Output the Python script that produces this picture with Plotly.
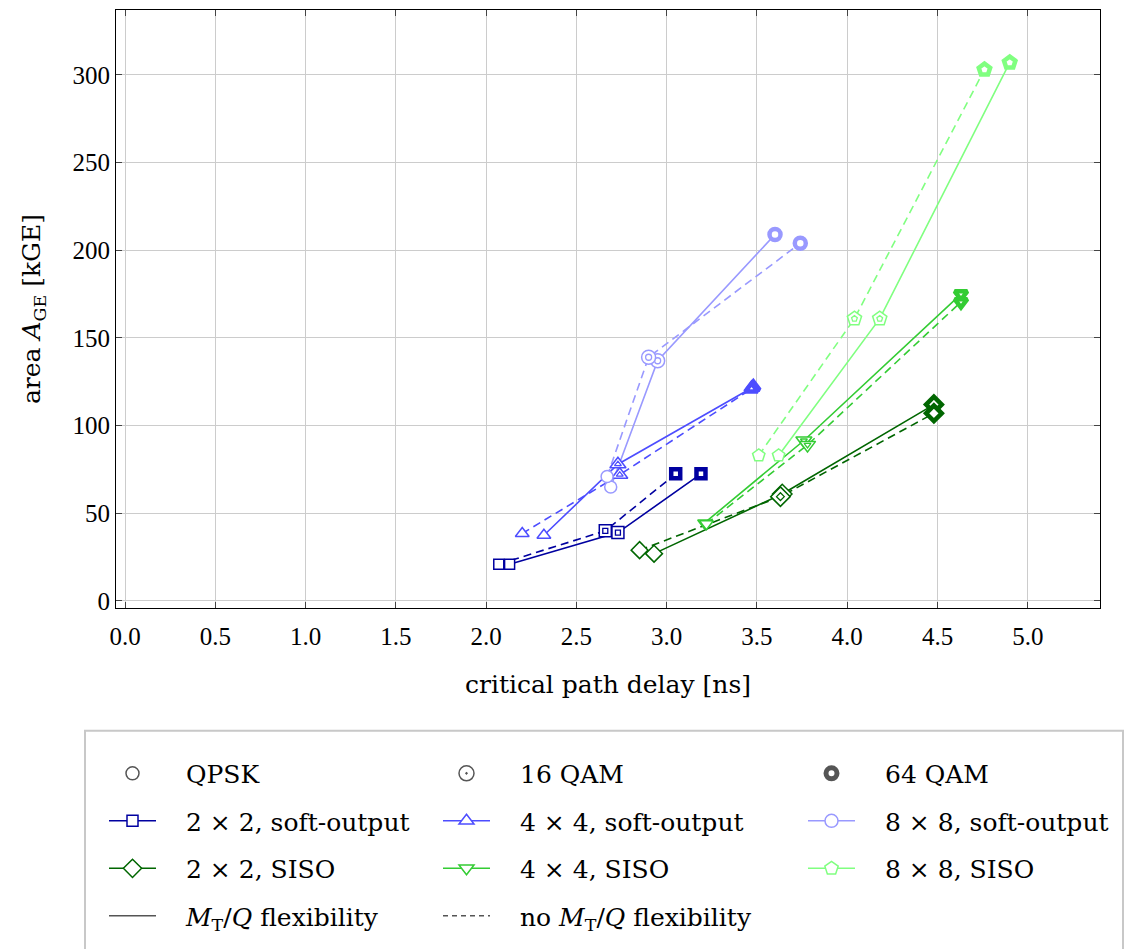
import plotly.graph_objects as go

TICKFONT = "Liberation Serif"
TEXTFONT = "DejaVu Serif"

# ---------------- data (critical path delay [ns], area [kGE]) ----------------
modulations = ["QPSK", "16 QAM", "64 QAM"]

x_2x2_so_flex = [2.13, 2.73, 3.19]
y_2x2_so_flex = [21, 39, 72.5]
x_2x2_so_nof = [2.07, 2.66, 3.05]
y_2x2_so_nof = [21, 40, 72.5]

x_4x4_so_flex = [2.32, 2.73, 3.48]
y_4x4_so_flex = [37.5, 78, 122]
x_4x4_so_nof = [2.20, 2.74, 3.47]
y_4x4_so_nof = [38.5, 72, 121]

x_8x8_so_flex = [2.69, 2.95, 3.60]
y_8x8_so_flex = [65, 137, 209]
x_8x8_so_nof = [2.67, 2.90, 3.74]
y_8x8_so_nof = [71, 139, 204]

x_2x2_siso_flex = [2.93, 3.64, 4.48]
y_2x2_siso_flex = [27, 61, 112]
x_2x2_siso_nof = [2.85, 3.63, 4.48]
y_2x2_siso_nof = [29, 59.5, 107]

x_4x4_siso_flex = [3.21, 3.76, 4.63]
y_4x4_siso_flex = [44.5, 91.5, 175]
x_4x4_siso_nof = [3.22, 3.78, 4.63]
y_4x4_siso_nof = [44, 89, 170.5]

x_8x8_siso_flex = [3.62, 4.18, 4.90]
y_8x8_siso_flex = [83, 161, 307]
x_8x8_siso_nof = [3.51, 4.04, 4.76]
y_8x8_siso_nof = [83, 161, 303]

PAD = "\u2002\u2002"  # gap between legend symbol and text
configs = [
    # name, color, symbol, base size, flex data, no-flex data, legend
    ("2 × 2, soft-output", "#0000a0", "square", 10, (x_2x2_so_flex, y_2x2_so_flex), (x_2x2_so_nof, y_2x2_so_nof), "legend"),
    ("4 × 4, soft-output", "#4d4dff", "triangle-up", 12, (x_4x4_so_flex, y_4x4_so_flex), (x_4x4_so_nof, y_4x4_so_nof), "legend2"),
    ("8 × 8, soft-output", "#9999ff", "circle", 12, (x_8x8_so_flex, y_8x8_so_flex), (x_8x8_so_nof, y_8x8_so_nof), "legend3"),
    ("2 × 2, SISO", "#006600", "diamond", 13, (x_2x2_siso_flex, y_2x2_siso_flex), (x_2x2_siso_nof, y_2x2_siso_nof), "legend"),
    ("4 × 4, SISO", "#33cc33", "triangle-down", 12, (x_4x4_siso_flex, y_4x4_siso_flex), (x_4x4_siso_nof, y_4x4_siso_nof), "legend2"),
    ("8 × 8, SISO", "#80ff80", "pentagon", 13, (x_8x8_siso_flex, y_8x8_siso_flex), (x_8x8_siso_nof, y_8x8_siso_nof), "legend3"),
]

fig = go.Figure()

# lines first
for name, col, sym, s, flex, nof, lg in configs:
    for (xs, ys), dash in ((flex, "solid"), (nof, "8px,5px")):
        fig.add_trace(go.Scatter(
            x=xs, y=ys, mode="lines",
            line=dict(color=col, width=1.6, dash=dash),
            showlegend=False, hoverinfo="skip"))

# markers on top
for name, col, sym, s, flex, nof, lg in configs:
    for (xs, ys) in (flex, nof):
        fig.add_trace(go.Scatter(
            x=xs, y=ys, mode="markers",
            marker=dict(symbol=sym, size=[s, s + 2, s - 1], color="white", opacity=1,
                        line=dict(color=col, width=[1.5, 1.5, 4.5])),
            showlegend=False, hoverinfo="skip"))
        # inner ring for 16 QAM
        fig.add_trace(go.Scatter(
            x=[xs[1]], y=[ys[1]], mode="markers",
            marker=dict(symbol=sym, size=max(4, round(s * 0.5)), color="white", opacity=1,
                        line=dict(color=col, width=1.3)),
            showlegend=False, hoverinfo="skip"))

GRAY = "#555555"
leg_font = dict(family=TEXTFONT, size=25, color="black")

# legend entries: modulation styles
fig.add_trace(go.Scatter(x=[None], y=[None], mode="markers", name=PAD + modulations[0],
                         marker=dict(symbol="circle", size=13, color="white", line=dict(color=GRAY, width=1.5)),
                         legend="legend", legendgroup="q1"))
fig.add_trace(go.Scatter(x=[None], y=[None], mode="markers", name=PAD + modulations[1],
                         marker=dict(symbol="circle-open-dot", size=15, color=GRAY, line=dict(color=GRAY, width=1.5)),
                         legend="legend2", legendgroup="q2"))
fig.add_trace(go.Scatter(x=[None], y=[None], mode="markers", name=PAD + modulations[2],
                         marker=dict(symbol="circle", size=11, color="white", line=dict(color=GRAY, width=5)),
                         legend="legend3", legendgroup="q3"))

for name, col, sym, s, flex, nof, lg in configs:
    fig.add_trace(go.Scatter(x=[None], y=[None], mode="lines+markers", name=PAD + name,
                             line=dict(color=col, width=1.6),
                             marker=dict(symbol=sym, size=s + 1, color="white", line=dict(color=col, width=1.5)),
                             legend=lg, legendgroup=name))

fig.add_trace(go.Scatter(x=[None], y=[None], mode="lines",
                         name=PAD + "<i>M</i><sub>T</sub>/<i>Q</i> flexibility",
                         line=dict(color=GRAY, width=1.6), legend="legend", legendgroup="f1"))
fig.add_trace(go.Scatter(x=[None], y=[None], mode="lines",
                         name=PAD + "no <i>M</i><sub>T</sub>/<i>Q</i> flexibility",
                         line=dict(color=GRAY, width=1.6, dash="5px,4px"), legend="legend2", legendgroup="f2"))

W, H = 1125, 949
ml, mr, mt, mb = 116, 25, 10, 335
pw, ph = W - ml - mr, H - mt - mb


def px_x(p):
    return (p - ml) / pw


def px_y(p):
    return (H - mb - p) / ph


legend_common = dict(orientation="v", xanchor="left", yanchor="top", bgcolor="rgba(0,0,0,0)",
                     font=leg_font, tracegroupgap=12, itemwidth=47, borderwidth=0)

fig.update_layout(
    width=W, height=H,
    margin=dict(l=ml, r=mr, t=mt, b=mb),
    paper_bgcolor="white", plot_bgcolor="white",
    font=dict(family=TEXTFONT, size=25, color="black"),
    xaxis=dict(range=[-0.05, 5.40], dtick=0.5, tick0=0, tickformat=".1f",
               showgrid=True, gridcolor="#cccccc", gridwidth=1, zeroline=False,
               showline=True, linecolor="black", linewidth=1, mirror="ticks",
               ticks="inside", ticklen=6, tickcolor="#444444", ticklabelstandoff=6,
               title=dict(text="critical path delay [ns]", standoff=26, font=dict(family=TEXTFONT, size=25)),
               tickfont=dict(family=TICKFONT, size=25)),
    yaxis=dict(range=[-4, 337], dtick=50, tick0=0,
               showgrid=True, gridcolor="#cccccc", gridwidth=1, zeroline=False,
               showline=True, linecolor="black", linewidth=1, mirror="ticks",
               ticks="inside", ticklen=6, tickcolor="#444444",
               title=dict(text="area <i>A</i><sub>GE</sub> [kGE]", standoff=24, font=dict(family=TEXTFONT, size=25)),
               tickfont=dict(family=TICKFONT, size=25)),
    legend=dict(x=px_x(104), y=px_y(758), **legend_common),
    legend2=dict(x=px_x(438), y=px_y(758), **legend_common),
    legend3=dict(x=px_x(803), y=px_y(758), **legend_common),
    shapes=[dict(type="rect", xref="paper", yref="paper",
                 x0=px_x(85), x1=px_x(1123), y0=px_y(738), y1=px_y(965),
                 line=dict(color="#c8c8c8", width=2), fillcolor="rgba(0,0,0,0)", layer="below")],
)

fig.write_html("out.html")
